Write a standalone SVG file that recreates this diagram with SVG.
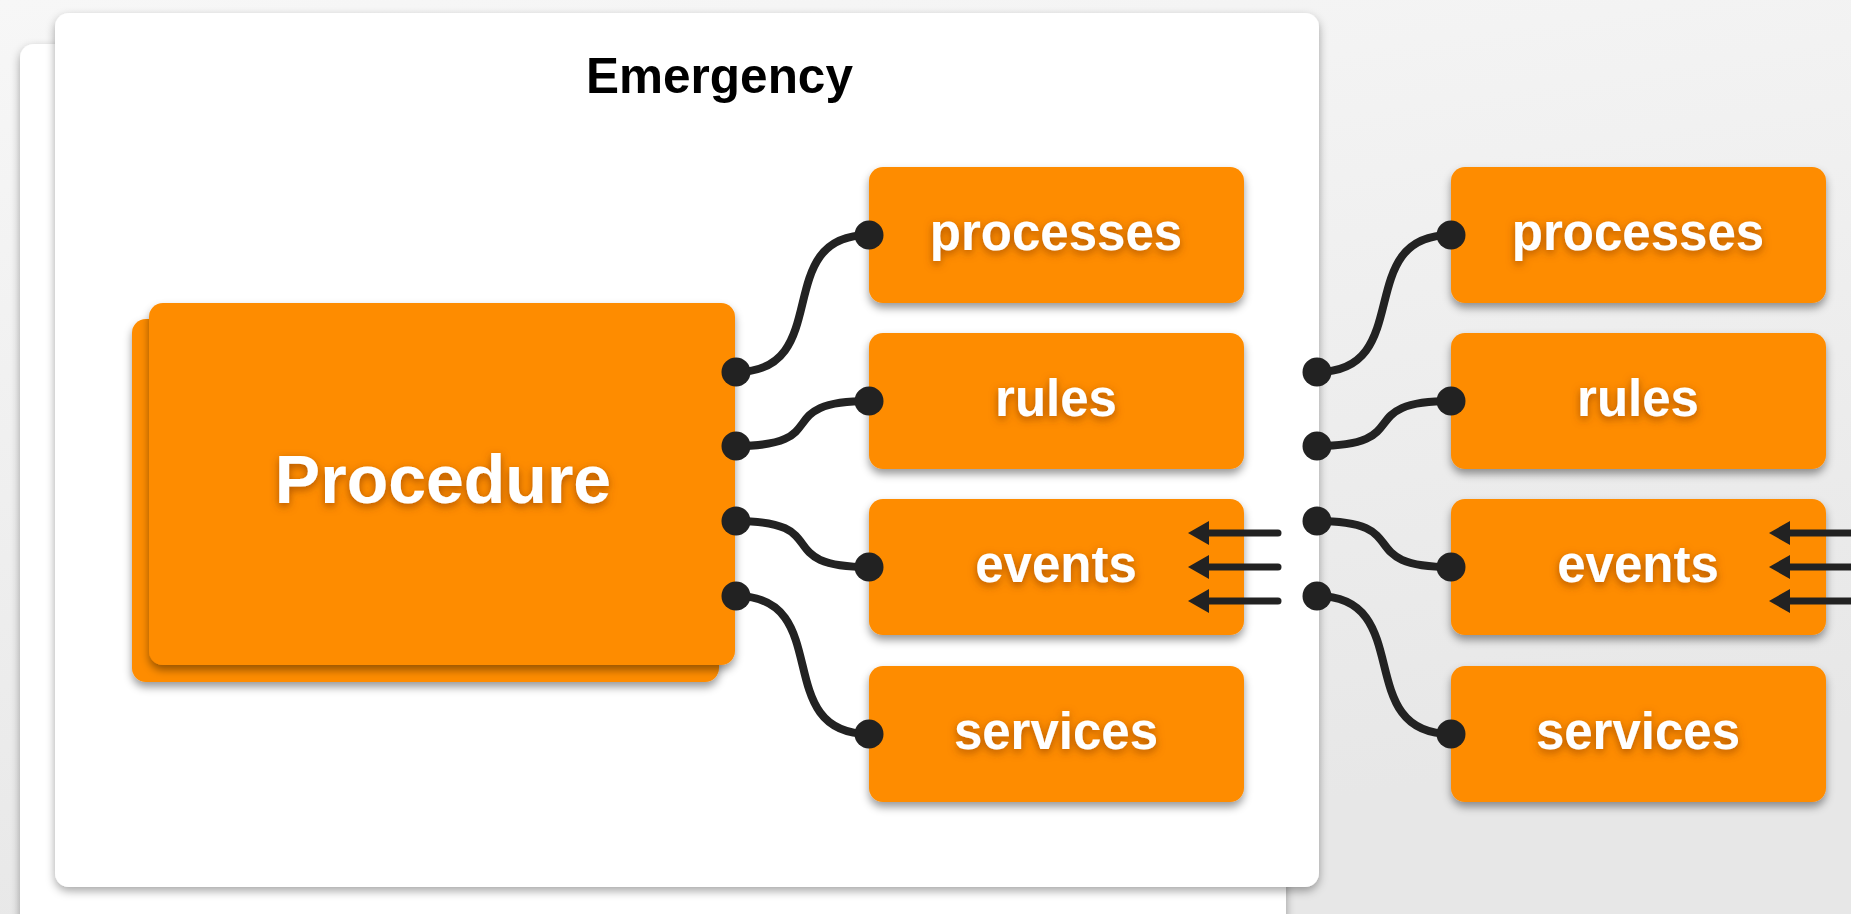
<svg xmlns="http://www.w3.org/2000/svg" width="1851" height="914" viewBox="0 0 1851 914">
<defs>
  <linearGradient id="bg" x1="0" y1="0" x2="0.3" y2="1">
    <stop offset="0" stop-color="#f7f7f7"/>
    <stop offset="1" stop-color="#e7e7e7"/>
  </linearGradient>
  <filter id="cardShadow" x="-5%" y="-5%" width="110%" height="115%">
    <feDropShadow dx="0" dy="4" stdDeviation="5" flood-color="#000" flood-opacity="0.35"/>
  </filter>
  <filter id="boxShadow" x="-10%" y="-10%" width="120%" height="130%">
    <feDropShadow dx="0" dy="5" stdDeviation="4" flood-color="#000" flood-opacity="0.4"/>
  </filter>
  <filter id="textShadow" x="-10%" y="-30%" width="120%" height="170%">
    <feDropShadow dx="0" dy="3" stdDeviation="4" flood-color="#8a3c00" flood-opacity="0.7"/>
  </filter>
  <marker id="head" viewBox="0 -12 21 24" refX="9" refY="0" markerWidth="21" markerHeight="24" markerUnits="userSpaceOnUse" orient="auto">
    <polygon points="0,-12 21,0 0,12" fill="#222"/>
  </marker>
  <style>
    .card { fill: #ffffff; filter: url(#cardShadow); }
    .box { fill: #fe8c01; filter: url(#boxShadow); }
    .label { font-family: "Liberation Sans", Arial, sans-serif; font-weight: bold; fill: #ffffff; text-anchor: middle; font-size: 51px; filter: url(#textShadow); }
    .title { font-family: "Liberation Sans", Arial, sans-serif; font-weight: bold; fill: #000000; text-anchor: middle; font-size: 49.5px; }
    .wire { fill: none; stroke: #222222; stroke-width: 8; }
    .dot { fill: #222222; }
    .arrow { fill: none; stroke: #222222; stroke-width: 7; stroke-linecap: round; marker-end: url(#head); }
  </style>
</defs>

<rect x="0" y="0" width="1851" height="914" fill="url(#bg)"/>

<g id="card-back">
  <rect class="card" x="20" y="44" width="1266" height="900" rx="14"/>
</g>

<g id="card-emergency">
  <rect class="card" x="55" y="13" width="1264" height="874" rx="14"/>
  <text class="title" x="719.5" y="93">Emergency</text>
</g>

<g id="procedure">
  <rect class="box" x="132" y="319" width="587" height="363" rx="14"/>
  <rect class="box" x="149" y="303" width="586" height="362" rx="14"/>
  <text class="label" x="443" y="503" style="font-size:68px">Procedure</text>
</g>

<g id="processes-1">
  <rect class="box" x="869" y="167" width="375" height="136" rx="14"/>
  <text class="label" x="1056" y="250">processes</text>
</g>
<g id="rules-1">
  <rect class="box" x="869" y="333" width="375" height="136" rx="14"/>
  <text class="label" x="1056" y="416">rules</text>
</g>
<g id="events-1">
  <rect class="box" x="869" y="499" width="375" height="136" rx="14"/>
  <text class="label" x="1056" y="582">events</text>
</g>
<g id="services-1">
  <rect class="box" x="869" y="666" width="375" height="136" rx="14"/>
  <text class="label" x="1056" y="749">services</text>
</g>

<g id="processes-2">
  <rect class="box" x="1451" y="167" width="375" height="136" rx="14"/>
  <text class="label" x="1638" y="250">processes</text>
</g>
<g id="rules-2">
  <rect class="box" x="1451" y="333" width="375" height="136" rx="14"/>
  <text class="label" x="1638" y="416">rules</text>
</g>
<g id="events-2">
  <rect class="box" x="1451" y="499" width="375" height="136" rx="14"/>
  <text class="label" x="1638" y="582">events</text>
</g>
<g id="services-2">
  <rect class="box" x="1451" y="666" width="375" height="136" rx="14"/>
  <text class="label" x="1638" y="749">services</text>
</g>

<g id="connectors">
  <path class="wire" d="M736,372 C836,372 769,235 869,235"/>
  <path class="wire" d="M736,446 C836,446 769,401 869,401"/>
  <path class="wire" d="M736,521 C836,521 769,567 869,567"/>
  <path class="wire" d="M736,596 C836,596 769,734 869,734"/>
  <circle class="dot" cx="736" cy="372" r="14.5"/>
  <circle class="dot" cx="736" cy="446" r="14.5"/>
  <circle class="dot" cx="736" cy="521" r="14.5"/>
  <circle class="dot" cx="736" cy="596" r="14.5"/>
  <circle class="dot" cx="869" cy="235" r="14.5"/>
  <circle class="dot" cx="869" cy="401" r="14.5"/>
  <circle class="dot" cx="869" cy="567" r="14.5"/>
  <circle class="dot" cx="869" cy="734" r="14.5"/>

  <path class="wire" d="M1317,372 C1417,372 1351,235 1451,235"/>
  <path class="wire" d="M1317,446 C1417,446 1351,401 1451,401"/>
  <path class="wire" d="M1317,521 C1417,521 1351,567 1451,567"/>
  <path class="wire" d="M1317,596 C1417,596 1351,734 1451,734"/>
  <circle class="dot" cx="1317" cy="372" r="14.5"/>
  <circle class="dot" cx="1317" cy="446" r="14.5"/>
  <circle class="dot" cx="1317" cy="521" r="14.5"/>
  <circle class="dot" cx="1317" cy="596" r="14.5"/>
  <circle class="dot" cx="1451" cy="235" r="14.5"/>
  <circle class="dot" cx="1451" cy="401" r="14.5"/>
  <circle class="dot" cx="1451" cy="567" r="14.5"/>
  <circle class="dot" cx="1451" cy="734" r="14.5"/>

  <path class="arrow" d="M1278,533 L1200,533"/>
  <path class="arrow" d="M1278,567 L1200,567"/>
  <path class="arrow" d="M1278,601 L1200,601"/>
  <path class="arrow" d="M1862,533 L1781,533"/>
  <path class="arrow" d="M1862,567 L1781,567"/>
  <path class="arrow" d="M1862,601 L1781,601"/>
</g>
</svg>
